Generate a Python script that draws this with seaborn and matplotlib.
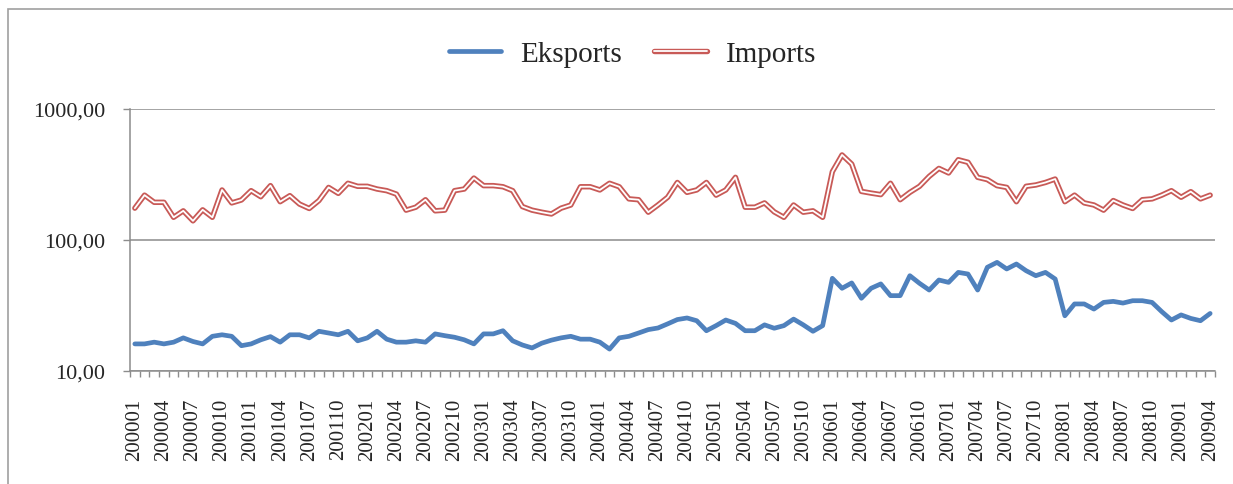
import matplotlib
matplotlib.use("Agg")
import matplotlib.pyplot as plt
import matplotlib.patheffects as pe
from matplotlib.patches import Rectangle
from matplotlib.ticker import FixedLocator, NullLocator
import pandas as pd
import seaborn as sns

# monthly categories 200001 .. 200904
months = [f"{y}{m:02d}" for y in range(2000, 2010) for m in range(1, 13)][:112]

exports = [
    16.1, 16.1, 16.6, 16.1, 16.6, 17.9, 16.8, 16.1, 18.4, 18.9, 18.4, 15.6,
    16.1, 17.3, 18.3, 16.6, 18.9, 18.9, 17.9, 20.1, 19.5, 18.9, 20.1, 17.0,
    17.9, 20.1, 17.5, 16.6, 16.6, 17.0, 16.6, 19.2, 18.6, 18.1, 17.3, 16.1,
    19.2, 19.2, 20.3, 17.0, 15.8, 15.0, 16.3, 17.2, 17.9, 18.4, 17.5, 17.5,
    16.6, 14.7, 17.9, 18.4, 19.5, 20.7, 21.3, 22.9, 24.7, 25.4, 24.2, 20.3,
    22.2, 24.5, 23.1, 20.3, 20.3, 22.5, 21.2, 22.2, 24.9, 22.5, 20.1, 22.2,
    51.0, 42.8, 47.0, 35.9, 42.8, 46.2, 37.6, 37.6, 53.4, 46.7, 41.5, 49.5,
    47.5, 56.6, 55.0, 41.5, 61.9, 67.5, 60.1, 65.6, 58.3, 53.4, 56.6, 50.4,
    26.4, 32.5, 32.5, 29.7, 33.4, 34.0, 33.0, 34.4, 34.4, 33.4, 28.4, 24.5,
    26.8, 25.2, 24.2, 27.5,
]

imports = [
    175, 220, 194, 194, 149, 167, 140, 170, 149, 241, 192, 202,
    238, 214, 260, 196, 218, 188, 174, 200, 252, 227, 271, 257,
    257, 245, 238, 224, 169, 178, 203, 167, 169, 238, 245, 297,
    260, 260, 255, 238, 180, 169, 163, 158, 175, 185, 255, 255,
    241, 271, 255, 206, 203, 163, 185, 212, 275, 231, 241, 275,
    220, 241, 301, 178, 178, 192, 164, 149, 185, 163, 167, 149,
    332, 446, 380, 235, 228, 222, 271, 203, 231, 257, 306, 352,
    325, 410, 392, 301, 289, 260, 252, 196, 257, 263, 275, 292,
    196, 220, 192, 185, 169, 200, 185, 174, 203, 206, 220, 238,
    212, 234, 206, 220,
]

series_names = ["Eksports", "Imports"]
y_ticks = [10, 100, 1000]
y_tick_labels = ["10,00", "100,00", "1000,00"]

df = pd.DataFrame({
    "pos": list(range(len(months))) * 2,
    "value": exports + imports,
    "series": [series_names[0]] * len(exports) + [series_names[1]] * len(imports),
})

sns.set_theme(style="white")
plt.rcParams["font.family"] = ["Liberation Serif", "DejaVu Serif"]

grey = "#8c8c8c"
blue = "#4F81BD"
red = "#C85A57"

fig = plt.figure(figsize=(12.33, 4.85), dpi=100)
ax = fig.add_axes([130 / 1233, 1 - 372 / 485, 1085 / 1233, 262 / 485])

sns.lineplot(
    data=df, x="pos", y="value", hue="series", hue_order=series_names,
    palette={"Eksports": blue, "Imports": red},
    estimator=None, sort=False, legend=False, linewidth=3.4, ax=ax,
)

exp_line, imp_line = ax.lines[0], ax.lines[1]
# Excel style double line for imports
imp_line.set_color("white")
imp_line.set_linewidth(1.3)
imp_line.set_path_effects([pe.Stroke(linewidth=3.9, foreground=red), pe.Normal()])

ax.set_yscale("log")
ax.set_ylim(10, 1000)
ax.set_xlim(-0.5, len(months) - 0.5)

ax.yaxis.set_major_locator(FixedLocator(y_ticks))
ax.yaxis.set_minor_locator(NullLocator())
ax.set_yticklabels(y_tick_labels)
ax.tick_params(axis="y", which="major", left=True, length=5, width=1,
               color=grey, pad=13, labelsize=16)

ax.set_xticks(range(0, len(months), 3))
ax.set_xticklabels(months[::3], rotation=90)
ax.xaxis.set_minor_locator(FixedLocator([i - 0.5 for i in range(len(months) + 1)]))
ax.tick_params(axis="x", which="major", length=0, pad=19, labelsize=15)
ax.tick_params(axis="x", which="minor", bottom=True, length=4.5, width=1, color=grey)

ax.grid(axis="y", which="major", color=grey, linewidth=1.1)
ax.set_axisbelow(True)
for side in ["top", "right"]:
    ax.spines[side].set_visible(False)
for side in ["left", "bottom"]:
    ax.spines[side].set_color(grey)
    ax.spines[side].set_linewidth(1.1)
ax.set_xlabel("")
ax.set_ylabel("")

fig.legend(
    handles=[exp_line, imp_line], labels=series_names,
    loc="center", bbox_to_anchor=(0.513, 0.887), ncol=2, frameon=False,
    fontsize=21, handlelength=1.8, handletextpad=0.65, columnspacing=1.1,
)

# chart border (only left and top edges fall inside the picture)
fig.add_artist(Rectangle((8 / 1233, -0.5), 2, 0.5 + 1 - 10 / 485,
                         transform=fig.transFigure, fill=False,
                         edgecolor="#a0a0a0", linewidth=1.2))

fig.savefig("out.png", dpi=100)
